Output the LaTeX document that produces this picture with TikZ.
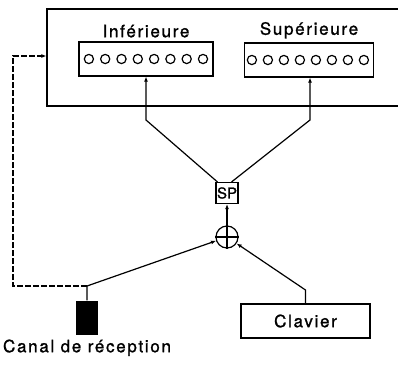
\documentclass[tikz,border=0pt]{standalone}
\usepackage{fontspec}
\setmainfont{TeX Gyre Heros}[LetterSpace=10,FakeBold=1.2]
\usepackage{tikz}
\usetikzlibrary{arrows.meta, positioning, calc}

\begin{document}
\begin{tikzpicture}[x=1pt,y=-1pt,font=\fontsize{17}{20}\selectfont,line width=1.2pt,
    boite/.style={draw,minimum width=129pt,minimum height=34pt,inner sep=0pt},
    fleche/.style={-{Latex[length=5pt,width=4pt]}}]
  \useasboundingbox (0,0) rectangle (398,372);
  % memoire
  \node[draw,minimum width=355pt,minimum height=97pt] (mem) at (224.5,57.5) {};
  \node[boite,minimum width=134pt] (inf) at (146,59) {};
  \node[boite] (sup) at (309,60) {};
  \node[above=0pt of inf] (linf) {Inférieure};
  \node[above=0pt of sup] (lsup) {Supérieure};
  \foreach \i in {0,...,7} {
    \draw ($(inf.west)+(10.5+16.3*\i,0)$) circle (4.6pt);
    \draw ($(sup.west)+(8+16*\i,0)$) circle (4.6pt);
  }
  % selection et somme
  \node[draw,minimum width=22pt,minimum height=21pt,inner sep=0pt,font=\addfontfeatures{LetterSpace=0}\fontsize{15}{16}\selectfont] (sp) at (227,193) {SP};
  \node[draw,circle,minimum size=22pt,inner sep=0pt] (som) at (227,237) {};
  \draw (som.north) -- (som.south) (som.west) -- (som.east);
  % entrees
  \node[fill=black,minimum width=22pt,minimum height=34pt,inner sep=0pt] (canal) at (87,318) {};
  \node[below=0pt of canal] (lcanal) {Canal de réception};
  \node[boite] (clav) at (305.5,321) {Clavier};
  \coordinate (ci) at (146,120);
  \coordinate (cs) at (310,120);
  \coordinate (cc) at (87,286);
  \coordinate (ck) at (305.5,290);
  \coordinate (rb) at (13,286);
  \coordinate (rh) at (13,56);
  \draw[fleche] (sp.north west) ++(2,0) -- (ci) -- (inf.south);
  \draw[fleche] (sp.north east) ++(-7,0) -- (cs) -- (cs |- sup.south);
  \draw[fleche] (som) -- (sp);
  \draw[fleche] (canal) -- (cc) -- (som);
  \draw[fleche] (clav) -- (ck) -- (som);
  \draw[fleche,dash pattern=on 6pt off 2pt] (cc) -- (rb) -- (rh) -- (rh -| mem.west);
\end{tikzpicture}
\end{document}
